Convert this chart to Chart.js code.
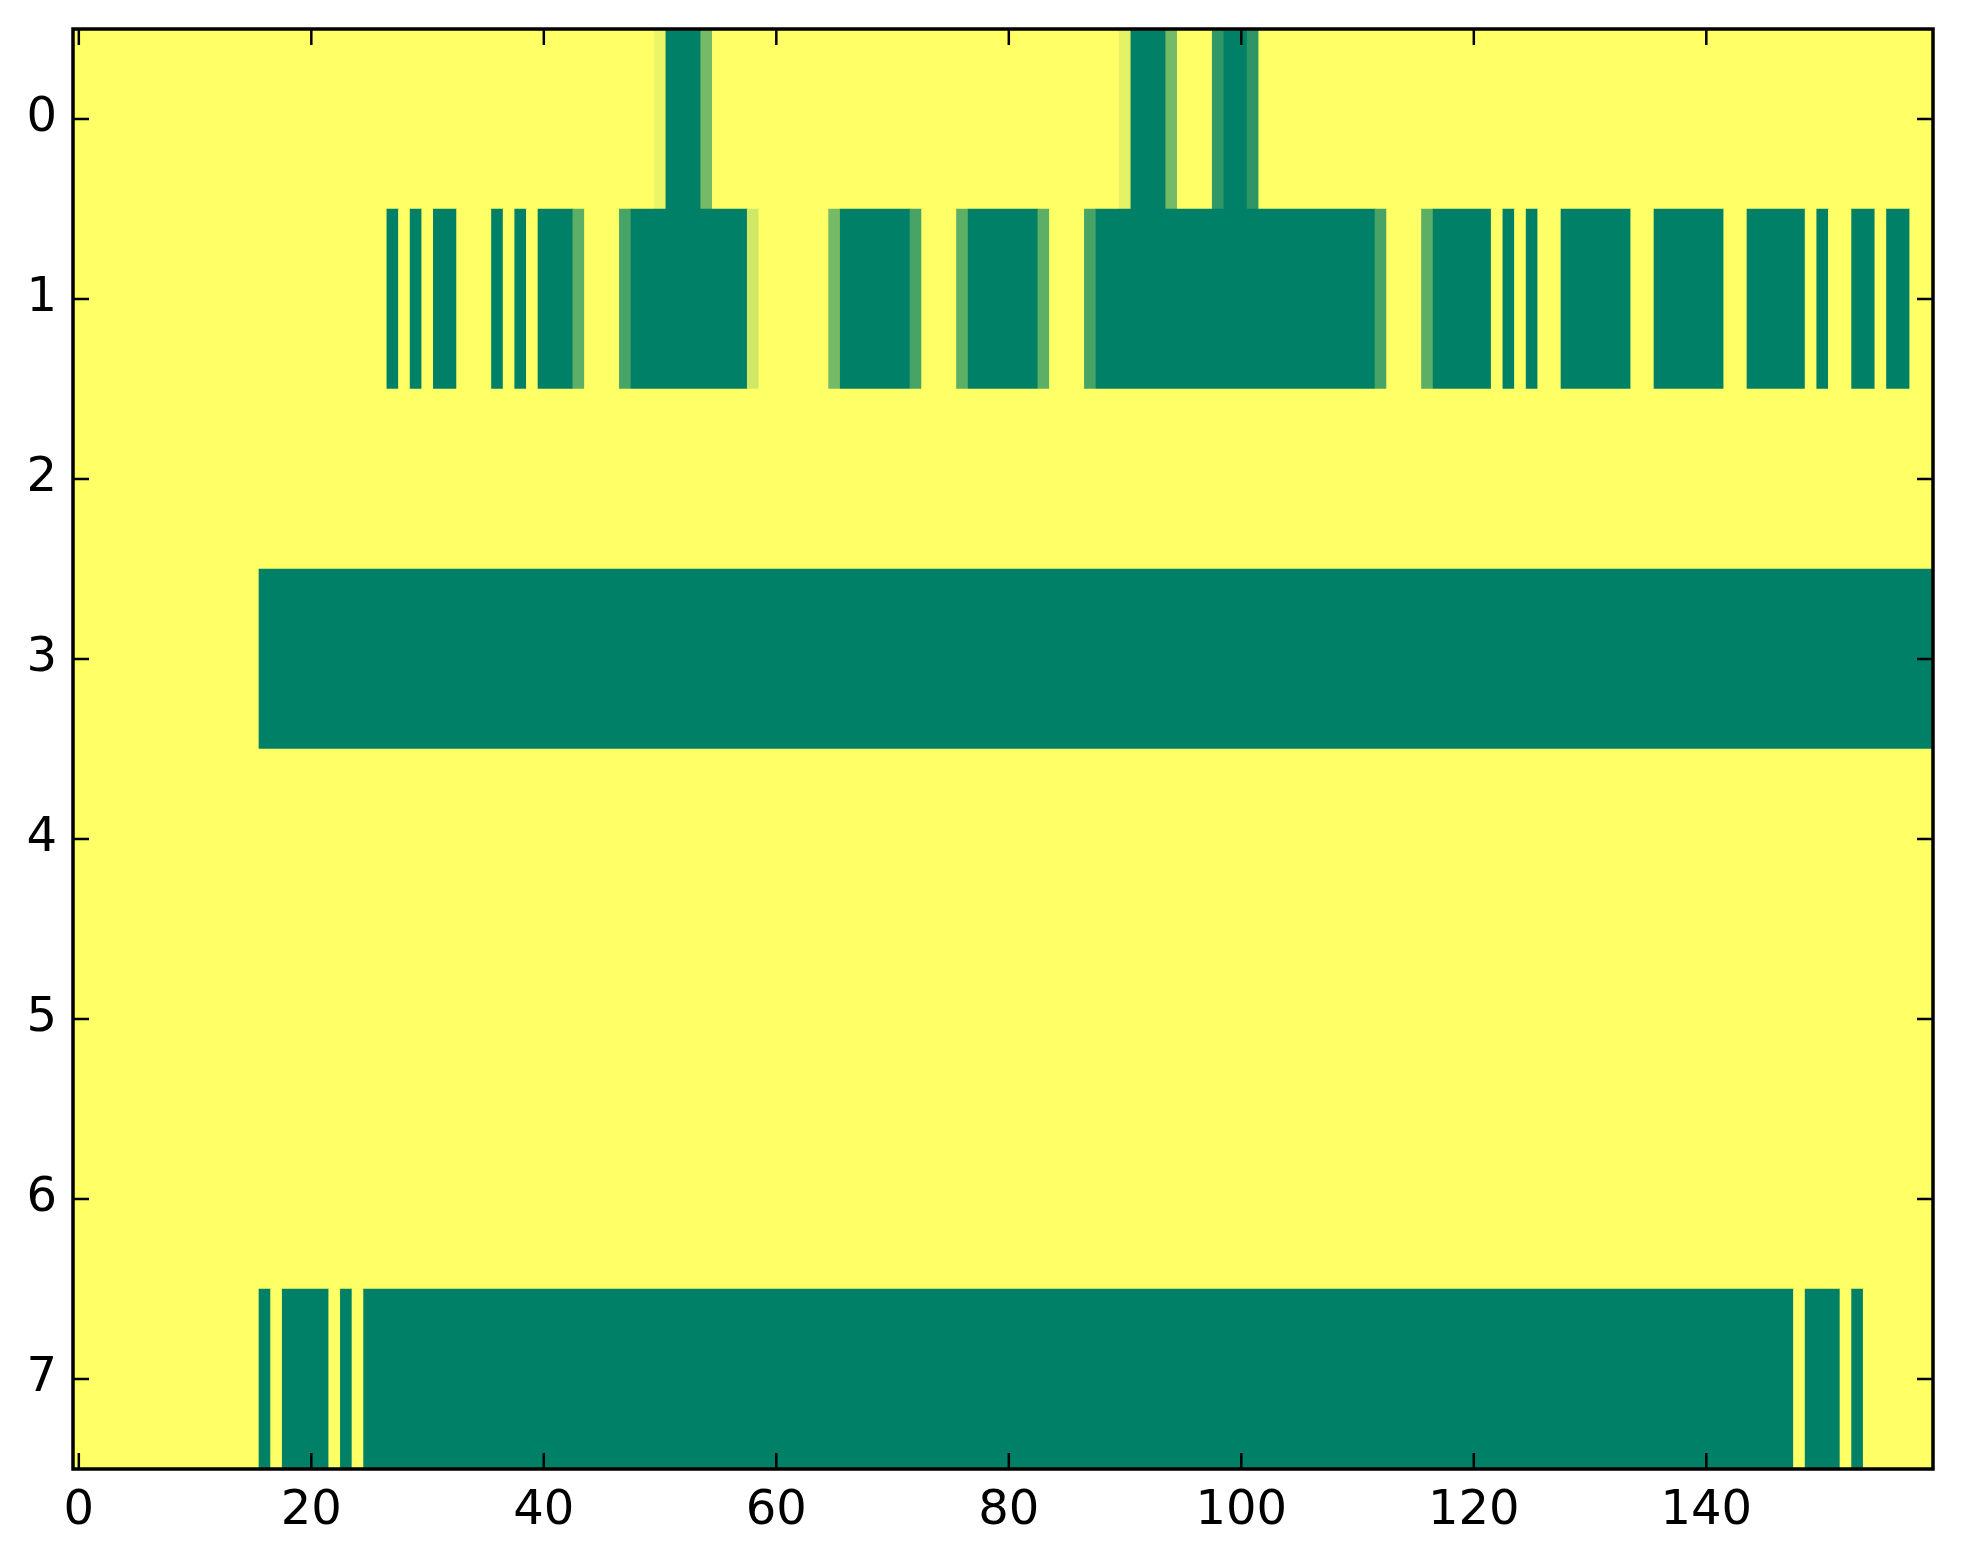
<!DOCTYPE html>
<html>
<head>
<meta charset="utf-8">
<script src="https://cdn.jsdelivr.net/npm/chart.js@4.4.1/dist/chart.umd.min.js"></script>
<style>
  html, body { margin: 0; padding: 0; background: #fff; }
  #wrap { width: 1963px; height: 1564px; }
</style>
</head>
<body>
<div id="wrap"><canvas id="heat"></canvas></div>
<script>
// tick labels
const rowLabels = [0, 1, 2, 3, 4, 5, 6, 7];
const xTicks = [0, 20, 40, 60, 80, 100, 120, 140];

// each row as runs of equal cells: [first column, last column, value]
const row0 = [[0,49,0],[50,50,0.08],[51,53,1],[54,54,0.54],[55,89,0],[90,90,0.1],[91,93,1],[94,94,0.54],
  [95,97,0],[98,98,0.81],[99,100,1],[101,101,0.82],[102,159,0]];
const row1 = [[0,26,0],[27,27,1],[28,28,0],[29,29,1],[30,30,0],[31,32,1],[33,35,0],[36,36,1],[37,37,0],
  [38,38,1],[39,39,0],[40,42,1],[43,43,0.63],[44,46,0],[47,47,0.72],[48,57,1],[58,58,0.18],[59,64,0],
  [65,65,0.54],[66,71,1],[72,72,0.72],[73,75,0],[76,76,0.63],[77,82,1],[83,83,0.63],[84,86,0],
  [87,87,0.72],[88,111,1],[112,112,0.72],[113,115,0],[116,116,0.63],[117,121,1],[122,122,0],[123,123,1],
  [124,124,0],[125,125,1],[126,127,0],[128,133,1],[134,135,0],[136,141,1],[142,143,0],[144,148,1],
  [149,149,0],[150,150,1],[151,152,0],[153,154,1],[155,155,0],[156,157,1],[158,159,0]];
const row2 = [[0,159,0]];
const row3 = [[0,15,0],[16,159,1]];
const row4 = [[0,159,0]];
const row5 = [[0,159,0]];
const row6 = [[0,159,0]];
const row7 = [[0,15,0],[16,16,1],[17,17,0],[18,21,1],[22,22,0],[23,23,1],[24,24,0],[25,147,1],
  [148,148,0],[149,151,1],[152,152,0],[153,153,1],[154,159,0]];

const rows = [row0, row1, row2, row3, row4, row5, row6, row7];

// matplotlib summer_r
function summerR(v){
  const t = 1 - v;
  return `rgb(${Math.round(255*t)},${Math.round(255*(0.5+0.5*t))},102)`;
}

const cells = [];
rows.forEach((runs, r)=>{
  runs.forEach(run=>{
    cells.push({ y: rowLabels[r], x: [run[0]-0.5, run[1]+0.5], v: run[2] });
  });
});

const FONT = { family: 'DejaVu Sans', size: 48 };

// frame and inward ticks on all four sides, like the classic style
const frameTicks = {
  id: 'frameTicks',
  afterDraw(chart){
    const { ctx, chartArea: a, scales } = chart;
    ctx.save();
    ctx.strokeStyle = '#000';
    ctx.lineWidth = 2.5;
    ctx.beginPath();
    xTicks.forEach(v=>{
      const px = scales.x.getPixelForValue(v);
      ctx.moveTo(px, a.bottom); ctx.lineTo(px, a.bottom - 16);
      ctx.moveTo(px, a.top); ctx.lineTo(px, a.top + 16);
    });
    rowLabels.forEach(v=>{
      const py = scales.y.getPixelForValue(v);
      ctx.moveTo(a.left, py); ctx.lineTo(a.left + 16, py);
      ctx.moveTo(a.right, py); ctx.lineTo(a.right - 16, py);
    });
    ctx.stroke();
    ctx.lineWidth = 3.5;
    ctx.strokeRect(a.left, a.top, a.right - a.left, a.bottom - a.top);
    ctx.restore();
  }
};

new Chart(document.getElementById('heat').getContext('2d'), {
  type: 'bar',
  data: {
    datasets: [{
      data: cells,
      backgroundColor: cells.map(c=>summerR(c.v)),
      borderWidth: 0,
      barPercentage: 1,
      categoryPercentage: 1,
      grouped: false
    }]
  },
  options: {
    indexAxis: 'y',
    responsive: true,
    maintainAspectRatio: false,
    animation: false,
    layout: { padding: { top: 29, right: 30, left: 0, bottom: 0 } },
    plugins: { legend: { display: false }, tooltip: { enabled: false } },
    scales: {
      x: {
        type: 'linear',
        min: -0.5, max: 159.5,
        afterBuildTicks: s=>{ s.ticks = xTicks.map(v=>({ value: v })); },
        afterFit: s=>{ s.height = 95; s.paddingLeft = 0; s.paddingRight = 0; },
        grid: { display: false, drawTicks: false },
        border: { display: false },
        ticks: { font: FONT, color: '#000', padding: 14, maxRotation: 0, autoSkip: false }
      },
      y: {
        type: 'linear',
        reverse: true,
        offset: false,
        min: -0.5, max: 7.5,
        afterBuildTicks: s=>{ s.ticks = rowLabels.map(v=>({ value: v })); },
        afterFit: s=>{ s.width = 73; s.paddingTop = 0; s.paddingBottom = 0; },
        grid: { display: false, drawTicks: false, offset: false },
        border: { display: false },
        ticks: { font: FONT, color: '#000', padding: 16, autoSkip: false }
      }
    }
  },
  plugins: [frameTicks]
});
</script>
</body>
</html>
